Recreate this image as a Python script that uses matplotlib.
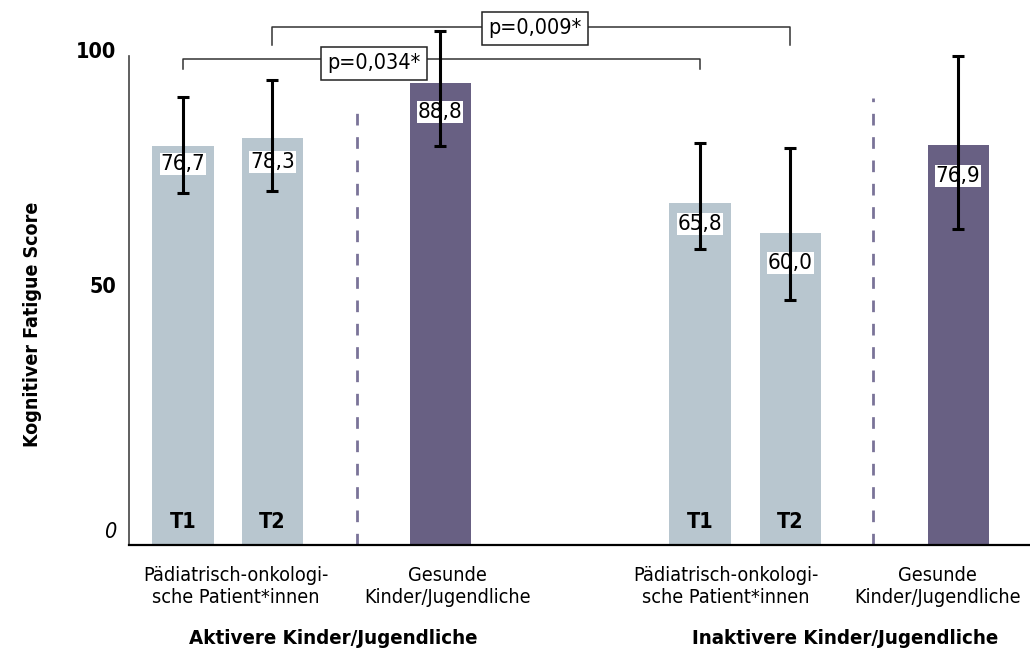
import matplotlib
matplotlib.use("Agg")
import matplotlib.pyplot as plt

plt.rcParams['font.family'] = ['DejaVu Sans']
plt.rcParams['font.stretch'] = 'condensed'

# values
groups = ["Aktivere Kinder/Jugendliche", "Inaktivere Kinder/Jugendliche"]
bar_names = ["T1", "T2", "", "T1", "T2", ""]
scores = [76.7, 78.3, 88.8, 65.8, 60.0, 76.9]
err_low = [9.0, 10.2, 12.1, 8.9, 12.8, 16.1]
err_high = [9.5, 11.1, 10.0, 11.5, 16.3, 17.2]
healthy = [False, False, True, False, False, True]
cat_labels = ["Pädiatrisch-onkologi-\nsche Patient*innen", "Gesunde\nKinder/Jugendliche",
              "Pädiatrisch-onkologi-\nsche Patient*innen", "Gesunde\nKinder/Jugendliche"]
p_values = ["p=0,034*", "p=0,009*"]
ytick_labels = ["0", "50", "100"]

# layout (bar positions in bar-spacing units)
bar_pos = [0, 1, 2.88, 5.79, 6.80, 8.68]
label_drop = [3.5, 4.6, 5.5, 4.1, 5.8, 5.9]
cat_x = [0.59, 2.96, 6.08, 8.45]
group_x = [1.68, 7.42]
sep_x = [1.95, 7.73]
sep_top = [84.6, 86.0]

light = "#b8c6cf"
dark = "#686083"
sep_col = "#7a7398"

fig = plt.figure(figsize=(10.3, 6.49), dpi=100)
ax = fig.add_axes([129 / 1030, 104 / 649, 901 / 1030, 545 / 649])

colors = [dark if h else light for h in healthy]
ax.bar(bar_pos, scores, width=0.685, color=colors, zorder=1)
ax.errorbar(bar_pos, scores, yerr=[err_low, err_high], fmt='none', ecolor='black',
            elinewidth=2.2, capsize=4.2, capthick=2.2, zorder=4)

for x, v, d in zip(bar_pos, scores, label_drop):
    ax.text(x, v - d, f"{v:.1f}".replace(".", ","), ha='center', va='center', fontsize=16,
            zorder=3, bbox=dict(boxstyle='square,pad=0.04', fc='white', ec='none'))

for x, n in zip(bar_pos, bar_names):
    if n:
        ax.text(x, 4.4, n, ha='center', va='center', fontsize=15.5, fontweight='bold')

for x, t in zip(sep_x, sep_top):
    ax.plot([x, x], [0, t], color=sep_col, lw=2, dashes=(4.2, 4.2), zorder=1)

# significance brackets: T1 vs T1 and T2 vs T2
brackets = [(bar_pos[0], bar_pos[3], 93.4, 91.5, 2.14, 92.6),
            (bar_pos[1], bar_pos[4], 99.6, 96.2, 3.94, 99.4)]
for (x0, x1, y, yb, tx, ty), p in zip(brackets, p_values):
    ax.plot([x0, x0, x1, x1], [yb, y, y, yb], color='#333333', lw=1.1, zorder=2)
    ax.text(tx, ty, p, ha='center', va='center', fontsize=15.5, zorder=3,
            bbox=dict(boxstyle='square,pad=0.3', fc='white', ec='#222222', lw=1.1))

ax.set_xlim(-0.605, 9.485)
ax.set_ylim(0, 104.8)
ax.set_xticks([])
ax.set_yticks([2.9, 50, 95.2])
ax.set_yticklabels(ytick_labels, fontsize=15.5)
ytl = ax.get_yticklabels()
ytl[0].set_fontstyle('italic')
ytl[1].set_fontweight('bold')
ytl[2].set_fontweight('bold')
ax.tick_params(axis='y', length=0, pad=9)

for s in ['top', 'right']:
    ax.spines[s].set_visible(False)
ax.spines['left'].set_bounds(0, 94)
ax.spines['left'].set_color('#444444')
ax.spines['left'].set_linewidth(1.2)
ax.spines['bottom'].set_linewidth(1.6)

ax.set_ylabel("Kognitiver Fatigue Score", fontsize=14, fontweight='bold')
ax.yaxis.set_label_coords(-0.097, 0.404)

tr = ax.get_xaxis_transform()
for x, lab in zip(cat_x, cat_labels):
    ax.text(x, -0.038, lab, transform=tr, ha='center', va='top', fontsize=14.2,
            linespacing=1.2, clip_on=False)
for x, g in zip(group_x, groups):
    ax.text(x, -0.155, g, transform=tr, ha='center', va='top', fontsize=14.7,
            fontweight='bold', clip_on=False)

fig.savefig("out.png", dpi=100)
